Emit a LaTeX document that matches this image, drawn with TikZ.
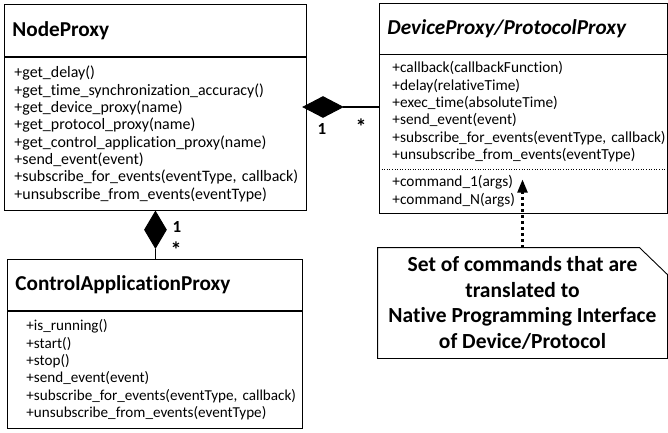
\documentclass[tikz,border=0pt]{standalone}
\usepackage{fontspec}
\setmainfont{Carlito}[Ligatures=NoCommon]
\usetikzlibrary{positioning,shapes.geometric,arrows.meta}

\hyphenpenalty=10000
\exhyphenpenalty=10000

\newcommand{\headfont}{\fontsize{21.3}{24}\selectfont\bfseries}
\newcommand{\opsfont}[1]{\fontsize{#1}{17.4}\selectfont}
\newcommand{\notefont}{\fontsize{21.6}{25.7}\selectfont\bfseries}
\newcommand{\multfont}{\fontsize{17}{20}\selectfont}

\tikzset{
  classhead/.style={draw, anchor=north west, align=left, inner xsep=8bp, inner ysep=0bp, font=\headfont, minimum height=52bp},
  classbody/.style={draw, align=left, inner ysep=0bp},
  composition/.style={diamond, draw, fill=black, inner sep=0bp},
  assoc/.style={line width=1.6bp},
  mult/.style={inner sep=0bp, anchor=base, font=\multfont},
  notebox/.style={align=center, inner sep=0bp, font=\notefont},
}

\begin{document}
\begin{tikzpicture}[x=1bp, y=-1bp, line width=0.9bp]
  \useasboundingbox (0,0) rectangle (668,432);

  % NodeProxy
  \node[classhead, text width=286bp] (np_head) at (4,4) {NodeProxy};
  \node[classbody, below=0bp of np_head, font=\opsfont{16}, inner xsep=4bp, text width=294bp, minimum height=153bp, execute at begin node={\leftskip=6bp}] (np_body) {+get\_delay()\\+get\_time\_synchronization\_accuracy()\\+get\_device\_proxy(name)\\+get\_protocol\_proxy(name)\\+get\_control\_application\_proxy(name)\\+send\_event(event)\\+subscribe\_for\_events(eventType,~callback)\\+unsubscribe\_from\_events(eventType)};

  % DeviceProxy/ProtocolProxy
  \node[classhead, text width=272bp, minimum height=51bp] (dev_head) at (379,3) {\itshape DeviceProxy/ProtocolProxy};
  \node[classbody, draw=none, below=0bp of dev_head, font=\opsfont{15.4}, inner xsep=2bp, text width=284bp, minimum height=113bp, execute at begin node={\leftskip=11bp}] (dev_ops) {+callback(callbackFunction)\\+delay(relativeTime)\\+exec\_time(absoluteTime)\\+send\_event(event)\\+subscribe\_for\_events(eventType,~callback)\\+unsubscribe\_from\_events(eventType)};
  \node[classbody, draw=none, below=0bp of dev_ops, font=\opsfont{15.4}, inner xsep=2bp, text width=284bp, minimum height=44bp, execute at begin node={\leftskip=11bp}] (dev_cmds) {+command\_1(args)\\+command\_N(args)};
  \draw (dev_ops.north west) rectangle (dev_cmds.south east);
  \draw[dotted, line width=0.6bp] (dev_ops.south west) -- (dev_ops.south east);

  % ControlApplicationProxy
  \node[classhead, text width=279bp, minimum height=51bp] (ca_head) at (7,259) {ControlApplicationProxy};
  \node[classbody, below=0bp of ca_head, font=\opsfont{15.2}, inner xsep=5bp, text width=285bp, minimum height=117bp, execute at begin node={\leftskip=14bp}] (ca_body) {+is\_running()\\+start()\\+stop()\\+send\_event(event)\\+subscribe\_for\_events(eventType,~callback)\\+unsubscribe\_from\_events(eventType)};

  % note
  \node[notebox, minimum width=289bp, minimum height=110bp] (cmd_note) at (522.5,303) {Set of commands that are\\translated to\\Native Programming Interface\\of Device/Protocol};
  \draw (cmd_note.north west) -- ([xshift=-28bp]cmd_note.north east) -- ([yshift=-27bp]cmd_note.north east) -- (cmd_note.south east) -- (cmd_note.south west) -- cycle;
  \coordinate (cmd_tip) at ([yshift=68bp]cmd_note.north);

  % compositions
  \node[composition, minimum width=40bp, minimum height=21bp] (dmd_dev) at (323,107) {};
  \node[composition, minimum width=22bp, minimum height=37bp, below=0bp of np_body.south] (dmd_ca) {};
  \draw[assoc] (dmd_dev.east) -- (dmd_dev.east -| dev_ops.west);
  \draw[assoc] (dmd_ca.south) -- (dmd_ca.south |- ca_head.north);
  \draw[line width=2.2bp, dash pattern=on 3bp off 3bp, -{Triangle[width=10bp,length=13bp]}] (cmd_note.north) -- (cmd_tip);

  % multiplicities
  \node[mult, font=\multfont\bfseries] (m_np1) at (322,134) {1};
  \node[mult, font=\fontsize{22}{24}\selectfont\bfseries] (m_dev) at (361,134) {*};
  \node[mult, font=\multfont\bfseries] (m_np2) at (177,232) {1};
  \node[mult, font=\fontsize{22}{24}\selectfont\bfseries] (m_ca) at (176,257) {*};
\end{tikzpicture}
\end{document}
